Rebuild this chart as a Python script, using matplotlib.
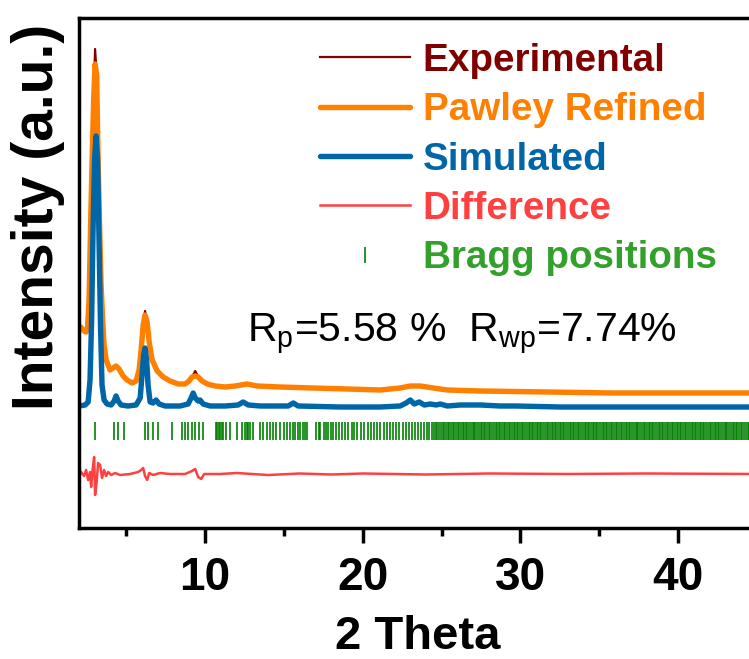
import matplotlib
matplotlib.use("Agg")
import matplotlib.pyplot as plt
from matplotlib.lines import Line2D

plt.rcParams['font.family'] = ['Liberation Sans', 'DejaVu Sans']
plt.rcParams['mathtext.default'] = 'regular'

# observed / Pawley refined pattern (same 2theta grid), intensity a.u.
two_theta_obs = [2.16, 2.32, 2.45, 2.54, 2.64, 2.73, 2.83, 2.93, 3.02, 3.12, 3.21, 3.31,
                 3.40, 3.50, 3.59, 3.72, 3.97, 4.16, 4.35, 4.54, 4.80, 5.05, 5.37, 5.62,
                 5.81, 5.94, 6.07, 6.19, 6.32, 6.45, 6.64, 6.96, 7.34, 7.78, 8.29, 8.73,
                 8.98, 9.17, 9.37, 9.56, 9.81, 10.13, 10.64, 11.27, 11.90, 12.66, 13.30,
                 14.76, 16.85, 19.01, 21.10, 22.37, 23.01, 23.64, 24.47, 25.36, 27.45,
                 31.70, 35.89, 45.0]
pawley = [100, 97, 96, 100, 128, 198, 268, 328, 364, 353, 268, 198,
          143, 108, 83, 68, 58, 60, 62, 59, 52, 48, 45, 47,
          58, 78, 103, 113, 106, 86, 68, 57, 51, 47, 44, 44,
          47, 51, 52, 51, 47, 44, 42, 41, 42, 44, 42,
          41, 40, 39, 38, 40, 42, 42, 40, 38, 37,
          36, 35, 35]
experimental = [100, 97, 96, 100, 128, 198, 268, 328, 379, 353, 268, 198,
                143, 108, 83, 68, 58, 60, 62, 59, 52, 48, 45, 47,
                58, 78, 103, 117, 106, 86, 68, 57, 51, 47, 44, 44,
                47, 51, 57, 51, 47, 44, 42, 41, 42, 44, 42,
                41, 40, 39, 38, 40, 42, 42, 40, 38, 37,
                36, 35, 35]

# simulated pattern
two_theta_sim = [2.00, 2.39, 2.58, 2.70, 2.80, 2.89, 2.99, 3.08, 3.18, 3.27, 3.37, 3.46,
                 3.59, 3.78, 4.04, 4.23, 4.35, 4.48, 4.67, 5.11, 5.62, 5.88, 6.00, 6.10,
                 6.19, 6.29, 6.38, 6.51, 6.70, 6.89, 7.08, 7.46, 8.41, 8.92, 9.11, 9.24,
                 9.37, 9.56, 9.68, 9.87, 10.32, 11.27, 12.09, 12.41, 12.73, 13.49, 15.27,
                 15.59, 15.90, 18.57, 21.10, 22.37, 22.75, 23.01, 23.26, 23.58, 23.90,
                 24.28, 24.66, 24.91, 25.36, 26.18, 27.45, 28.72, 29.67, 32.53, 45.0]
simulated = [1, 2, 5, 27, 87, 177, 247, 271, 247, 167, 77, 22,
             7, 3, 2, 6, 11, 6, 2, 1, 2, 9, 32, 52,
             59, 47, 22, 5, 4, 7, 3, 1, 1, 3, 9, 14,
             9, 6, 7, 3, 1, 1, 2, 5, 2, 1, 1,
             4, 1, 0, 0, 1, 4, 7, 3, 5, 2,
             3, 2, 3, 1, 2, 2, 1, 1, 0, 0]

# difference curve
two_theta_diff = [2.13, 2.32, 2.45, 2.58, 2.70, 2.77, 2.86, 2.96, 3.02, 3.12, 3.21, 3.34,
                  3.46, 3.59, 3.72, 3.85, 4.04, 4.29, 4.61, 5.24, 5.75, 5.94, 6.07, 6.19,
                  6.32, 6.45, 6.70, 7.14, 7.78, 8.73, 9.17, 9.37, 9.56, 9.75, 9.94, 10.95,
                  12.0, 14.0, 16.0, 18.0, 20.0, 24.0, 28.0, 33.0, 38.0, 45.0]
difference = [2, -2, 4, -6, 2, -13, 4, 17, -21, -8, 11, 9,
              -4, 4, -2, 2, -1, 1, -1, 0, 2, 4, 6, -2,
              -6, 1, -1, 1, 0, 0, 3, 5, -3, -5, 0, 0,
              1, -1, 0.5, -0.5, 0.5, -0.5, 0.5, 0, 0.5, 0]

# Bragg reflection positions (2theta)
bragg_pos = [3.04, 4.24, 4.45, 4.87, 6.19, 6.40, 6.72, 7.04, 7.89, 8.52, 8.73, 8.94,
             9.16, 9.37, 9.58, 9.85, 10.70, 10.78, 10.87, 10.95, 11.06, 11.16, 11.31,
             11.59, 12.01, 12.33, 12.54, 12.65, 12.75, 12.85, 13.03, 13.49, 13.70,
             13.92, 14.13, 14.33, 14.51, 14.76, 14.97, 15.18, 15.39, 15.60, 15.71,
             15.86, 16.03, 16.20, 16.35, 16.49, 17.04, 17.19, 17.30, 17.51, 17.68,
             17.82, 17.98, 18.14, 18.31, 18.46, 18.67, 18.88, 19.09, 19.31, 19.41,
             19.63, 19.86, 20.05, 20.31, 20.50, 20.69, 20.93, 21.10, 21.32, 21.51,
             21.70, 21.94, 22.12, 22.31, 22.55, 22.73, 22.91, 23.10, 23.31, 23.49,
             23.66, 23.85, 24.04, 24.20, 24.37, 24.51,
             24.62, 24.73, 24.85, 24.96, 25.08, 25.17, 25.29, 25.38, 25.47, 25.60,
             25.69, 25.81, 25.90, 26.02, 26.11, 26.20, 26.33, 26.42, 26.54, 26.63,
             26.75, 26.84, 26.96, 27.05, 27.14, 27.27, 27.36, 27.48, 27.57, 27.69,
             27.78, 27.90, 27.99, 28.08, 28.21, 28.30, 28.42, 28.51, 28.63, 28.72,
             28.84, 28.93, 29.02, 29.15, 29.24, 29.36, 29.45, 29.57, 29.66, 29.78,
             29.87, 29.96, 30.09, 30.18, 30.30, 30.39, 30.51, 30.60, 30.72, 30.81,
             30.90, 31.03, 31.12, 31.24, 31.33, 31.45, 31.54, 31.66, 31.75, 31.84,
             31.97, 32.06, 32.18, 32.27, 32.39, 32.48, 32.60, 32.69, 32.78, 32.91,
             33.00, 33.12, 33.21, 33.33, 33.42, 33.54, 33.63, 33.72, 33.85, 33.94,
             34.06, 34.15, 34.27, 34.36, 34.48, 34.57, 34.66, 34.79, 34.88, 35.00,
             35.09, 35.21, 35.30, 35.42, 35.51, 35.60, 35.73, 35.82, 35.94, 36.03,
             36.15, 36.24, 36.36, 36.45, 36.54, 36.67, 36.76, 36.88, 36.97, 37.09,
             37.18, 37.30, 37.39, 37.48, 37.61, 37.70, 37.82, 37.91, 38.03, 38.12,
             38.24, 38.33, 38.42, 38.55, 38.64, 38.76, 38.85, 38.97, 39.06, 39.18,
             39.27, 39.36, 39.49, 39.58, 39.70, 39.79, 39.91, 40.00, 40.12, 40.21,
             40.30, 40.43, 40.52, 40.64, 40.73, 40.85, 40.94, 41.06, 41.15, 41.24,
             41.37, 41.46, 41.58, 41.67, 41.79, 41.88, 42.00, 42.09, 42.18, 42.31,
             42.40, 42.52, 42.61, 42.73, 42.82, 42.94, 43.03, 43.12, 43.25, 43.34,
             43.46, 43.55, 43.67, 43.76, 43.88, 43.97, 44.06, 44.19, 44.28, 44.40,
             44.49, 44.61, 44.70, 44.82, 44.91]

# vertical stacking of the curves
offset_obs = 100
offset_sim = 121
offset_diff = 54
bragg_lo, bragg_hi = 88, 106

c_exp = '#800000'
c_paw = '#FF8000'
c_sim = '#0066A8'
c_diff = '#FF4040'
c_bragg = '#008000'
c_bragg_txt = '#33A02C'

fig = plt.figure(figsize=(7.49, 6.59), dpi=100)
ax = fig.add_axes([79 / 749, 131 / 659, 678 / 749, 510 / 659])

ax.plot(two_theta_obs, [v + offset_obs for v in experimental], color=c_exp, lw=1.6)
ax.plot(two_theta_obs, [v + offset_obs for v in pawley], color=c_paw, lw=3.9,
        solid_joinstyle='round')
ax.plot(two_theta_sim, [v + offset_sim for v in simulated], color=c_sim, lw=3.9,
        solid_joinstyle='round')
ax.plot(two_theta_diff, [v + offset_diff for v in difference], color=c_diff, lw=1.8)
ax.vlines(bragg_pos, bragg_lo, bragg_hi, color=c_bragg, lw=1.2)

ax.set_xlim(2, 45)
ax.set_ylim(0, 510)
ax.set_xticks([10, 20, 30, 40])
ax.set_xticks([5, 15, 25, 35, 45], minor=True)
ax.set_yticks([])
ax.tick_params(axis='x', which='major', direction='out', length=11, width=2.5,
               labelsize=33, pad=9)
ax.tick_params(axis='x', which='minor', direction='out', length=6, width=2.5)
for lab in ax.get_xticklabels():
    lab.set_fontweight('bold')
for sp in ax.spines.values():
    sp.set_linewidth(2.5)

ax.set_xlabel('2 Theta', fontsize=34, fontweight='bold', labelpad=11)
ax.set_ylabel('Intensity (a.u.)', fontsize=41, fontweight='bold', labelpad=10)
ax.yaxis.label.set_y(0.61)

ax.text(0.248, 0.365, r'$R_p$=5.58 %  $R_{wp}$=7.74%', transform=ax.transAxes,
        fontsize=29.5, va='baseline', ha='left')

handles = [
    Line2D([], [], color=c_exp, lw=1.6),
    Line2D([], [], color=c_paw, lw=3.9, solid_capstyle='round'),
    Line2D([], [], color=c_sim, lw=3.9, solid_capstyle='round'),
    Line2D([], [], color=c_diff, lw=1.8),
    Line2D([], [], color=c_bragg, ls='none', marker='|', markersize=12, markeredgewidth=1.2),
]
labels = ['Experimental', 'Pawley Refined', 'Simulated', 'Difference', 'Bragg positions']
ax.legend(handles, labels, loc='upper left', bbox_to_anchor=(0.3555, 0.951),
          frameon=False, borderaxespad=0, borderpad=0, handlelength=2.33,
          handletextpad=0.33, labelspacing=0.345,
          labelcolor=[c_exp, c_paw, c_sim, c_diff, c_bragg_txt],
          prop={'size': 27.8, 'weight': 'bold'})

fig.savefig('out.png', dpi=100)
